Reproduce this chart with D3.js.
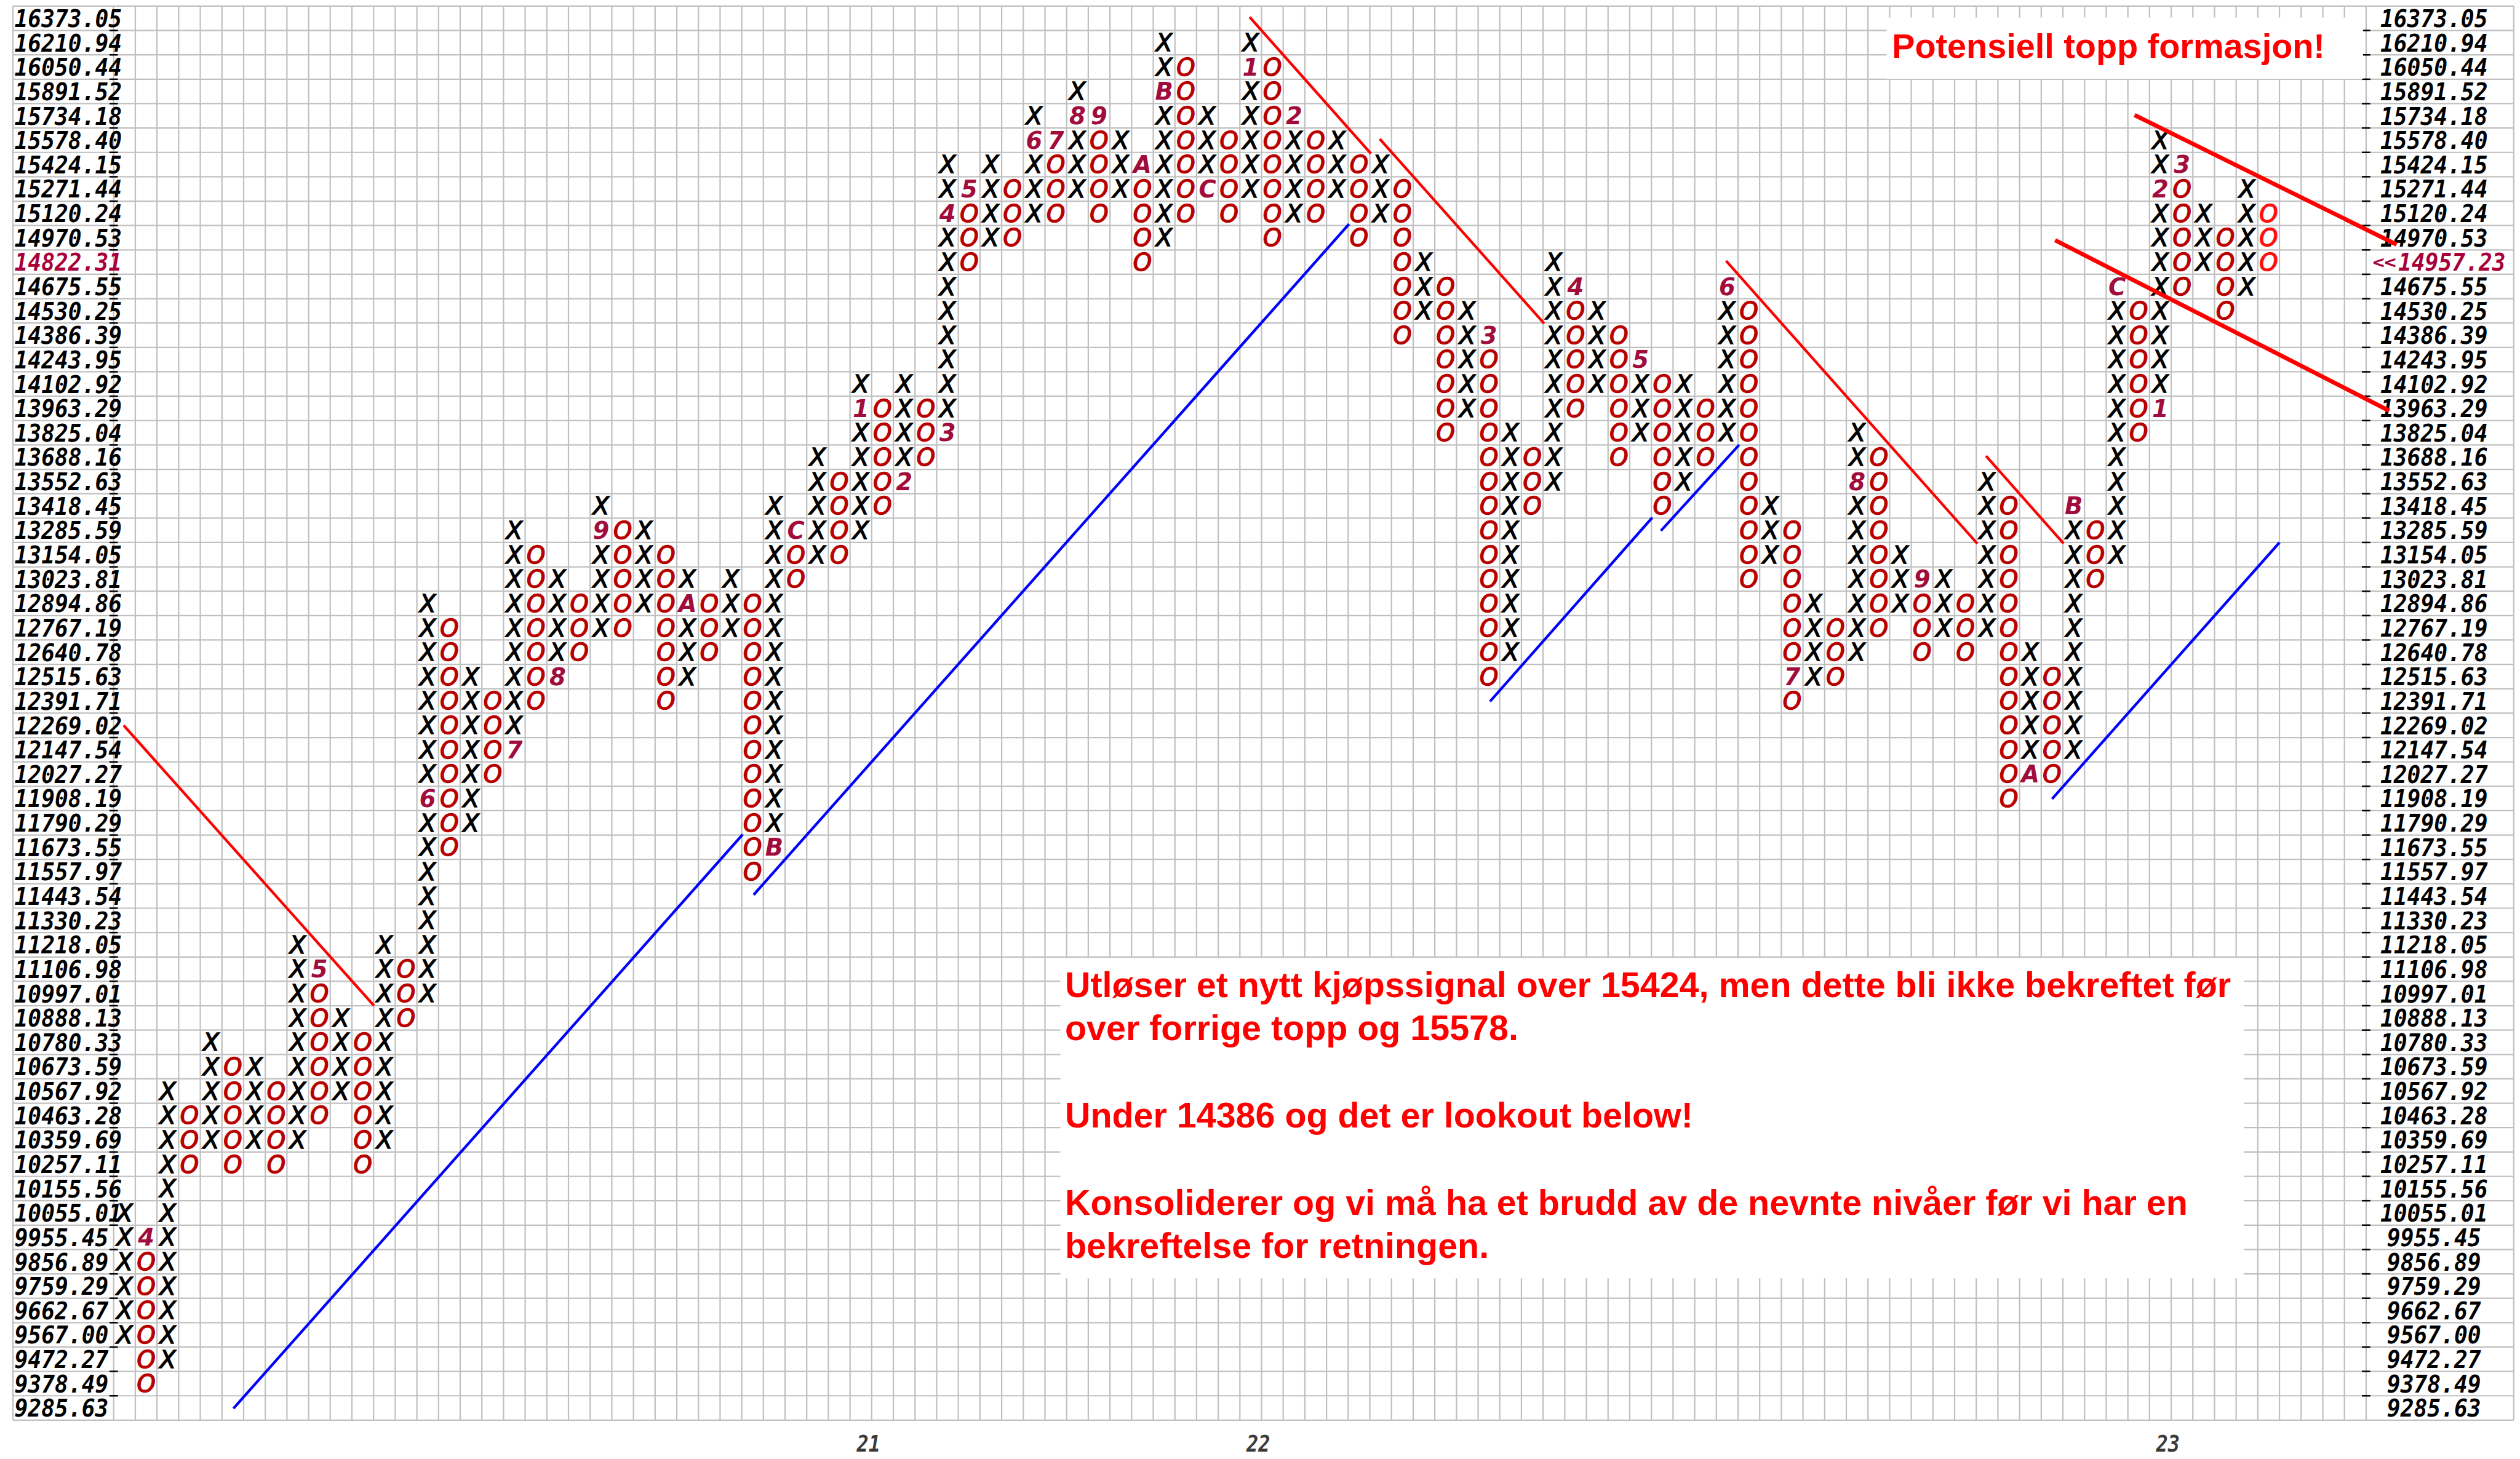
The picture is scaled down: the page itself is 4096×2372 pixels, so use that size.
<!DOCTYPE html>
<html>
<head>
<meta charset="utf-8">
<title>Point &amp; Figure</title>
<script src="https://cdn.jsdelivr.net/npm/d3@7/dist/d3.min.js"></script>
<style>
  html, body { margin: 0; padding: 0; background: #ffffff; }
  svg { display: block; }
</style>
</head>
<body>
<svg id="chart"></svg>
<script>
// Box levels of the point & figure grid, lowest box first
const boxLevels = [
  "9285.63","9378.49","9472.27","9567.00","9662.67","9759.29","9856.89","9955.45","10055.01","10155.56",
  "10257.11","10359.69","10463.28","10567.92","10673.59","10780.33","10888.13","10997.01","11106.98","11218.05",
  "11330.23","11443.54","11557.97","11673.55","11790.29","11908.19","12027.27","12147.54","12269.02","12391.71",
  "12515.63","12640.78","12767.19","12894.86","13023.81","13154.05","13285.59","13418.45","13552.63","13688.16",
  "13825.04","13963.29","14102.92","14243.95","14386.39","14530.25","14675.55","14822.31","14970.53","15120.24",
  "15271.44","15424.15","15578.40","15734.18","15891.52","16050.44","16210.94","16373.05"
];

// Column types, one letter per column (X = rising, O = falling)
const columnKinds = "XOXOXOXOXOXOXOXOXOXOXOXOXOXOXOXOXOXOXOXOXOXOXOXOXOXOXOXOXOXOXOXOXOXOXOXOXOXOXOXOXOXOXOXOXOXOXOXOXOXO";

// Lowest and highest box (index into boxLevels) filled in each column
const columnLowBox = [
   3, 1, 2,10,11,10,11,10,11,12, 13,10,11,16,17,23,24,26,27,29,
  30,31,32,32,33,29,30,31,32,22, 23,34,35,35,36,37,38,39,40,47,
  48,48,49,49,50,49,50,47,48,49, 50,49,50,48,49,49,50,48,49,44,
  45,40,41,30,31,37,38,41,42,39, 40,37,38,39,40,34,35,29,30,30,
  31,32,33,31,32,31,32,25,26,26, 27,34,35,40,41,46,47,45,46,47
];
const columnHighBox = [
   8, 7,13,12,15,14,14,13,19,18, 16,15,19,18,33,32,30,29,36,35,
  34,33,37,36,36,35,34,33,34,33, 37,36,39,38,42,41,42,41,51,50,
  51,50,53,52,54,53,52,51,56,55, 53,52,56,55,53,52,52,51,51,50,
  47,46,45,44,40,39,47,46,45,44, 43,42,42,41,46,45,37,36,33,32,
  40,39,35,34,34,33,38,37,31,30, 37,36,46,45,52,51,49,48,50,49
];

// Month codes (1-9, A-C) written in place of the first box of a new month: [column, box, code]
const monthMarks = [
  [1,7,"4"],[9,18,"5"],[14,25,"6"],[18,27,"7"],[20,30,"8"],[22,36,"9"],[26,33,"A"],[30,23,"B"],[31,36,"C"],
  [34,41,"1"],[36,38,"2"],[38,40,"3"],[38,49,"4"],[39,50,"5"],[42,52,"6"],[43,52,"7"],[44,53,"8"],[45,53,"9"],
  [47,51,"A"],[48,54,"B"],[50,50,"C"],
  [52,55,"1"],[54,53,"2"],[63,44,"3"],[67,46,"4"],[70,43,"5"],[74,46,"6"],[77,30,"7"],[80,38,"8"],[83,34,"9"],
  [88,26,"A"],[90,37,"B"],[92,46,"C"],
  [94,41,"1"],[94,50,"2"],[95,51,"3"]
];

// Year labels under the column where January starts: [label, column]
const yearLabels = [["21", 34], ["22", 52], ["23", 94]];

// Last price and the box it sits in
const lastPrice = "14957.23";
const lastPriceBox = 47;

// Trend lines as [[column, box], [column, box]] end points
const resistanceLines = [
  [[0.46, 28.50], [12.02, 17.00]],
  [[52.45, 57.55], [58.05, 51.95]],
  [[58.46, 52.55], [66.05, 44.98]],
  [[74.45, 47.55], [86.05, 35.95]],
  [[86.45, 39.55], [90.03, 35.96]]
];
const channelLines = [
  [[93.31, 53.53], [105.41, 48.22]],
  [[89.64, 48.40], [105.07, 41.40]]
];
const supportLines = [
  [[5.53, 0.48], [29.04, 24.02]],
  [[29.55, 21.55], [57.04, 49.06]],
  [[63.55, 29.48], [71.04, 37.02]],
  [[71.44, 36.48], [75.05, 40.00]],
  [[89.50, 25.48], [100.00, 36.00]]
];

// Comment texts
const headline = "Potensiell topp formasjon!";
const commentLines = [
  "Utløser et nytt kjøpssignal over 15424, men dette bli ikke bekreftet før",
  "over forrige topp og 15578.",
  "",
  "Under 14386 og det er lookout below!",
  "",
  "Konsoliderer og vi må ha et brudd av de nevnte nivåer før vi har en",
  "bekreftelse for retningen."
];

// ---------------------------------------------------------------------------
const S = 0.62;                  // drawing scale
const W = 4096, H = 2372;
const L = {                      // layout in unscaled units
  frameLeft: 34, frameRight: 6590, frameTop: 16, frameBottom: 3724,
  plotLeft: 298, plotRight: 6203, nCols: 104,
  leftLabelX: 38, rightLabelMid: 6381, charW: 35.2,
  labelSize: 64, markSize: 62
};

const svg = d3.select("#chart").attr("width", W).attr("height", H)
  .attr("viewBox", `0 0 ${W} ${H}`);
svg.append("rect").attr("width", W).attr("height", H).attr("fill", "#ffffff");

const x = d3.scaleLinear().domain([0, L.nCols]).range([L.plotLeft * S, L.plotRight * S]);
const y = d3.scaleLinear().domain([0, boxLevels.length]).range([L.frameBottom * S, L.frameTop * S]);

const gridColor = "#c0c0c0";
const gridW = 3.6 * S;

// grid: horizontal lines across the whole frame, vertical lines in the plot area
const grid = svg.append("g");
grid.selectAll("line.h").data(d3.range(boxLevels.length + 1)).join("line")
  .attr("x1", L.frameLeft * S).attr("x2", L.frameRight * S)
  .attr("y1", d => y(d)).attr("y2", d => y(d))
  .attr("stroke", gridColor).attr("stroke-width", gridW);
grid.selectAll("line.v").data(d3.range(L.nCols + 1)).join("line")
  .attr("x1", d => x(d)).attr("x2", d => x(d))
  .attr("y1", y(boxLevels.length)).attr("y2", y(0))
  .attr("stroke", gridColor).attr("stroke-width", gridW);
grid.append("line")
  .attr("x1", L.frameLeft * S).attr("x2", L.frameLeft * S)
  .attr("y1", L.frameTop * S).attr("y2", L.frameBottom * S)
  .attr("stroke", gridColor).attr("stroke-width", gridW);
grid.append("line")
  .attr("x1", L.frameRight * S).attr("x2", L.frameRight * S)
  .attr("y1", L.frameTop * S).attr("y2", L.frameBottom * S)
  .attr("stroke", gridColor).attr("stroke-width", gridW);

// tick dashes on both price axes
const inner = d3.range(1, boxLevels.length);
const ticks = svg.append("g").attr("stroke", "#000").attr("stroke-width", 4 * S);
ticks.selectAll("line.l").data(inner).join("line")
  .attr("x1", 287 * S).attr("x2", 309 * S).attr("y1", d => y(d)).attr("y2", d => y(d));
ticks.selectAll("line.r").data(inner).join("line")
  .attr("x1", 6192 * S).attr("x2", 6214 * S).attr("y1", d => y(d)).attr("y2", d => y(d));

// comment boxes hide the grid behind the text
svg.append("rect")
  .attr("x", 4946 * S).attr("y", 46 * S)
  .attr("width", (6195 - 4946) * S).attr("height", (207 - 46) * S)
  .attr("fill", "#ffffff");
svg.append("rect")
  .attr("x", 2780 * S).attr("y", 2512 * S)
  .attr("width", (5882 - 2780) * S).attr("height", (3352 - 2512) * S)
  .attr("fill", "#ffffff");

// price labels
const labelFont = "'DejaVu Sans Mono', 'Liberation Mono', monospace";
const maroon = "#a8003a";
const lblFs = L.labelSize * S;
const lblDy = 0.36 * lblFs;
const labels = svg.append("g")
  .attr("font-family", labelFont).attr("font-weight", "bold").attr("font-style", "oblique")
  .attr("font-size", lblFs);
labels.selectAll("text.l").data(boxLevels).join("text")
  .attr("x", L.leftLabelX * S)
  .attr("y", (d, i) => y(i + 0.5) + lblDy)
  .attr("textLength", d => d.length * L.charW * S)
  .attr("lengthAdjust", "spacingAndGlyphs")
  .attr("fill", (d, i) => i === lastPriceBox ? maroon : "#000")
  .text(d => d);
labels.selectAll("text.r").data(boxLevels.map((d, i) => [d, i]).filter(d => d[1] !== lastPriceBox)).join("text")
  .attr("x", L.rightLabelMid * S)
  .attr("y", d => y(d[1] + 0.5) + lblDy)
  .attr("text-anchor", "middle")
  .attr("textLength", d => d[0].length * L.charW * S)
  .attr("lengthAdjust", "spacingAndGlyphs")
  .attr("fill", "#000")
  .text(d => d[0]);
// last price marker on the right axis
labels.append("text")
  .attr("x", 6220 * S).attr("y", y(lastPriceBox + 0.5) + 0.25 * lblFs)
  .attr("font-size", lblFs * 0.7)
  .attr("textLength", 62 * S).attr("lengthAdjust", "spacingAndGlyphs")
  .attr("fill", maroon).text("<<");
labels.append("text")
  .attr("x", 6287 * S).attr("y", y(lastPriceBox + 0.5) + lblDy)
  .attr("textLength", lastPrice.length * L.charW * S).attr("lengthAdjust", "spacingAndGlyphs")
  .attr("fill", maroon).text(lastPrice);

// year labels below the grid
labels.selectAll("text.yr").data(yearLabels).join("text")
  .attr("x", d => x(d[1] + 0.5) + 20 * S)
  .attr("y", 3806 * S)
  .attr("text-anchor", "middle")
  .attr("font-size", 60 * S)
  .attr("textLength", 62 * S).attr("lengthAdjust", "spacingAndGlyphs")
  .attr("fill", "#3a3a3a")
  .text(d => d[0]);

// X / O boxes with month codes
const marks = [];
columnKinds.split("").forEach((kind, c) => {
  for (let b = columnLowBox[c]; b <= columnHighBox[c]; b++) {
    const m = monthMarks.find(d => d[0] === c && d[1] === b);
    marks.push({ c, b, text: m ? m[2] : kind, month: !!m, kind, live: c === columnKinds.length - 1 });
  }
});
const mFs = L.markSize * S;
const markColor = d => d.month ? "#a00d3c" : d.kind === "X" ? "#000000" : (d.live ? "#ff1010" : "#b80000");
svg.append("g")
  .attr("font-family", "'DejaVu Sans', Verdana, sans-serif")
  .attr("font-style", "oblique")
  .attr("font-size", mFs).attr("text-anchor", "middle")
  .selectAll("text").data(marks).join("text")
  .attr("x", d => x(d.c + 0.5))
  .attr("y", d => y(d.b + 0.5) + 0.36 * mFs)
  .attr("font-weight", d => d.month ? "bold" : "normal")
  .attr("fill", markColor)
  .attr("stroke", d => d.month ? "none" : markColor(d))
  .attr("stroke-width", 1.5)
  .text(d => d.text);

// trend lines
const seg = d3.line().x(p => x(p[0])).y(p => y(p[1]));
const lines = svg.append("g").attr("fill", "none").attr("stroke-linecap", "butt");
lines.selectAll("path.res").data(resistanceLines).join("path")
  .attr("d", seg).attr("stroke", "#ff0000").attr("stroke-width", 7 * S);
lines.selectAll("path.ch").data(channelLines).join("path")
  .attr("d", seg).attr("stroke", "#ff0000").attr("stroke-width", 11 * S);
lines.selectAll("path.sup").data(supportLines).join("path")
  .attr("d", seg).attr("stroke", "#0000ff").attr("stroke-width", 7 * S);

// comments
const textFont = "'Liberation Sans', Arial, sans-serif";
svg.append("text")
  .attr("x", 4960 * S).attr("y", 152 * S)
  .attr("font-family", textFont).attr("font-weight", "bold")
  .attr("font-size", 90 * S).attr("fill", "#ff0000")
  .text(headline);
const commentBaselines = [2615, 2727, 2842, 2956, 3071, 3185, 3298];
svg.append("g")
  .attr("font-family", textFont).attr("font-weight", "bold")
  .attr("font-size", 92.6 * S).attr("fill", "#ff0000")
  .selectAll("text").data(commentLines).join("text")
  .attr("x", 2792 * S)
  .attr("y", (d, i) => commentBaselines[i] * S)
  .text(d => d);
</script>
</body>
</html>
